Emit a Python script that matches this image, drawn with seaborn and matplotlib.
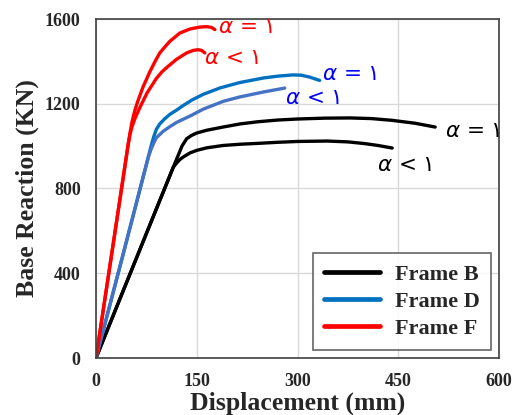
import numpy as np
import pandas as pd
import matplotlib
matplotlib.use("Agg")
import matplotlib.pyplot as plt
from matplotlib.lines import Line2D
import seaborn as sns

# ---- data ----
b1_x = [0, 60, 115, 128, 135, 142, 150, 165, 189, 215, 241, 270, 300, 340, 378, 410, 440, 475, 505]
b1_y = [0, 470, 900, 1000, 1035, 1050, 1062, 1075, 1090, 1105, 1115, 1123, 1128, 1132, 1133, 1130, 1122, 1108, 1090]
b2_x = [0, 60, 115, 120, 125, 130, 140, 150, 165, 189, 215, 241, 270, 300, 344, 375, 400, 420, 441]
b2_y = [0, 470, 900, 920, 937, 949, 968, 980, 992, 1003, 1009, 1013, 1018, 1022, 1024, 1020, 1012, 1003, 991]

d1_x = [0, 40, 78, 82, 86, 90, 95, 102, 110, 120, 130, 143, 160, 185, 214, 250, 270, 293, 305, 318, 333]
d1_y = [0, 485, 950, 1000, 1045, 1080, 1105, 1128, 1150, 1170, 1192, 1218, 1245, 1275, 1300, 1322, 1330, 1336, 1335, 1326, 1310]
d2_x = [0, 40, 78, 82, 86, 90, 100, 110, 120, 140, 160, 190, 214, 250, 281]
d2_y = [0, 485, 950, 985, 1015, 1040, 1070, 1092, 1112, 1142, 1175, 1212, 1232, 1256, 1274]

f1_x = [0, 25, 48, 51, 54, 58, 62, 70, 80, 88, 95, 103, 110, 125, 140, 155, 165, 172, 177]
f1_y = [0, 525, 1010, 1070, 1120, 1170, 1210, 1279, 1350, 1400, 1440, 1470, 1495, 1534, 1553, 1562, 1564, 1560, 1550]
f2_x = [0, 25, 48, 51, 54, 58, 65, 76, 90, 98, 106, 120, 135, 145, 152, 157, 162]
f2_y = [0, 525, 1010, 1060, 1095, 1130, 1180, 1251, 1320, 1350, 1373, 1410, 1440, 1452, 1455, 1452, 1440]

curve_names = ["B1", "B2", "D1", "D2", "F1", "F2"]
curve_xs = [b1_x, b2_x, d1_x, d2_x, f1_x, f2_x]
curve_ys = [b1_y, b2_y, d1_y, d2_y, f1_y, f2_y]

legend_labels = ["Frame B", "Frame D", "Frame F"]
legend_colors = ["#000000", "#0070C0", "#FF0000"]

x_ticks = [0, 150, 300, 450, 600]
y_ticks = [0, 400, 800, 1200, 1600]

annot_rel = ["=", "<", "=", "<", "=", "<"]
annot_x = [520, 418, 336, 281, 182, 161]
annot_y = [1071, 911, 1340, 1227, 1562, 1416]
annot_col = ["#000000", "#000000", "#0000FF", "#0000FF", "#FF0000", "#FF0000"]

palette = {"B1": "#000000", "B2": "#000000", "D1": "#0070C0",
           "D2": "#4472C4", "F1": "#FF0000", "F2": "#FF0000"}

rows = []
for name, xs, ys in zip(curve_names, curve_xs, curve_ys):
    for i, (x, y) in enumerate(zip(xs, ys)):
        rows.append({"curve": name, "order": i, "x": x, "y": y})
df = pd.DataFrame(rows)

sns.set_style("white")
plt.rcParams["mathtext.fontset"] = "dejavusans"
serif = "Liberation Serif"

fig = plt.figure(figsize=(5.15, 4.15), dpi=100)
ax = fig.add_axes([96 / 515, 1 - 358 / 415, (499 - 96) / 515, (358 - 19) / 415])

sns.lineplot(data=df, x="x", y="y", hue="curve", palette=palette,
             units="curve", estimator=None, sort=False, linewidth=2.4,
             legend=False, ax=ax)
for ln in ax.get_lines():
    ln.set_solid_capstyle("round")
    ln.set_solid_joinstyle("round")

ax.set_xlim(0, 600)
ax.set_ylim(0, 1600)
ax.set_xticks(x_ticks)
ax.set_yticks(y_ticks)
ax.grid(True, color="#d9d9d9", linewidth=1.0)
ax.set_axisbelow(True)
for s in ax.spines.values():
    s.set_color("#404040")
    s.set_linewidth(1.2)
ax.tick_params(length=0, pad=11)
for lab in ax.get_xticklabels() + ax.get_yticklabels():
    lab.set_fontfamily(serif)
    lab.set_fontweight("bold")
    lab.set_fontsize(13)

ax.set_xlabel("Displacement (mm)", fontfamily=serif, fontweight="bold",
              fontsize=18.5, labelpad=1)
ax.set_ylabel("Base Reaction (KN)", fontfamily=serif, fontweight="bold",
              fontsize=18.5, labelpad=4)

for r, x, y, c in zip(annot_rel, annot_x, annot_y, annot_col):
    ax.text(x, y, "$\\alpha$ " + r + " ١", color=c, fontsize=15.5,
            family=["DejaVu Sans"], ha="left", va="center", clip_on=False)

handles = [Line2D([0], [0], color=c, linewidth=3.4) for c in legend_colors]
leg = ax.legend(handles, legend_labels, loc="lower right",
                prop={"family": serif, "weight": "bold", "size": 16},
                frameon=True, fancybox=False, edgecolor="#404040",
                handlelength=2.5, borderaxespad=0.35, labelspacing=0.3,
                handletextpad=0.7, borderpad=0.5)
leg.get_frame().set_linewidth(1.2)

fig.savefig("out.png", dpi=100)
